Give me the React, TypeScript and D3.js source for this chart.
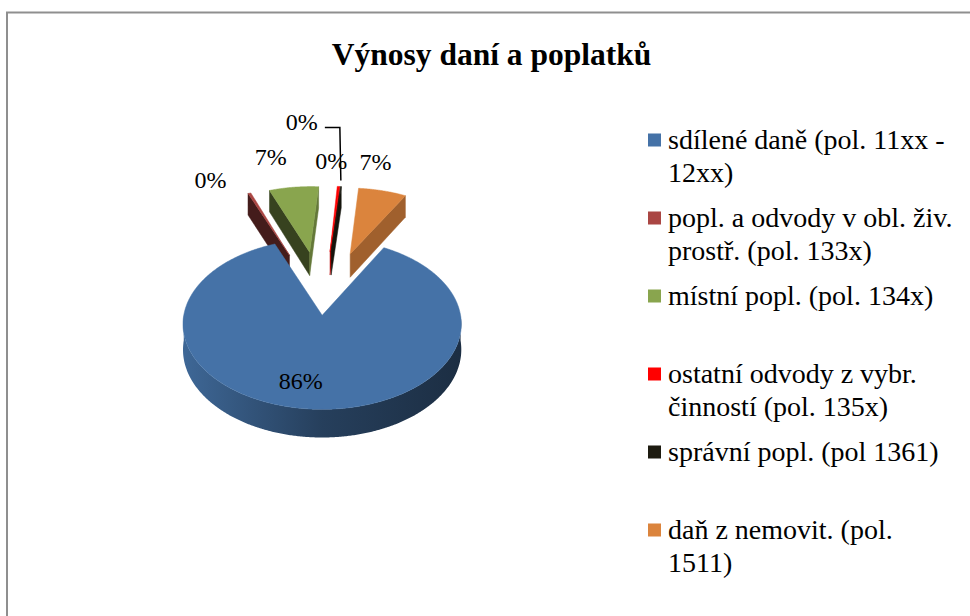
import React from 'react';
import * as d3 from 'd3';

// ---------- data ----------
const title = 'Výnosy daní a poplatků';
const categories = [
  'sdílené daně (pol. 11xx - 12xx)',
  'popl. a odvody v obl. živ. prostř. (pol. 133x)',
  'místní popl. (pol. 134x)',
  'ostatní odvody z vybr. činností (pol. 135x)',
  'správní popl. (pol 1361)',
  'daň z nemovit. (pol. 1511)',
];
const legendLines = [
  ['sdílené daně (pol. 11xx -', '12xx)'],
  ['popl. a odvody v obl. živ.', 'prostř. (pol. 133x)'],
  ['místní popl. (pol. 134x)'],
  ['ostatní odvody z vybr.', 'činností (pol. 135x)'],
  ['správní popl. (pol 1361)'],
  ['daň z nemovit. (pol.', '1511)'],
];
const values = [86.0, 0.4, 6.8, 0.3, 0.1, 6.6];
const colors = ['#4572A7', '#AA4643', '#89A54E', '#FF0000', '#1D1B10', '#DB843D'];

// ---------- style / layout ----------
const W = 970, H = 616;
const FONT = '"Liberation Serif", "DejaVu Serif", "Times New Roman", serif';
const CX = 323, CY = 307, RX = 137, RY = 82.6, PERSP = 0.102, DEPTH = 25;
const START_DEG = 29;
const explode = [0.1, 0.72, 0.72, 0.72, 0.72, 0.72];
const labelRadius = [0.6, 1, 1, 1, 1, 1];
const labelShift: [number, number][] = [[-16, 12], [-39, -13], [-23, -30], [-7, -25], [-39, -65], [-7, -29]];
const leaderIndex = 4;

function proj(u: number, v: number, z = 0): [number, number] {
  const s = 1 / (1 + PERSP * v);
  return [CX + u * RX * s, CY - v * RY * s + z * DEPTH * s];
}
const shade = (c: string, f: number) => {
  const r = d3.rgb(c);
  return d3.rgb(r.r * f, r.g * f, r.b * f).formatHex();
};

const lineGen = d3.line<[number, number]>();

function arcPoints(a0: number, a1: number, ou: number, ov: number, z: number) {
  const n = Math.max(2, Math.ceil(Math.abs(a1 - a0) / (Math.PI / 360)));
  const pts: [number, number][] = [];
  for (let i = 0; i <= n; i++) {
    const a = a0 + ((a1 - a0) * i) / n;
    pts.push(proj(ou + Math.sin(a), ov + Math.cos(a), z));
  }
  return pts;
}

const textStyle = { fontFamily: FONT };

export default function App() {
  const total = d3.sum(values);
  const pct = d3.format('.0%');
  const start = (START_DEG * Math.PI) / 180;
  const arcs = d3.pie<number>().sort(null).startAngle(start).endAngle(start + 2 * Math.PI)(values);

  const slices = arcs.map((a, i) => {
    const mid = (a.startAngle + a.endAngle) / 2;
    const e = explode[i];
    const ou = e * Math.sin(mid), ov = e * Math.cos(mid);
    return { i, a0: a.startAngle, a1: a.endAngle, mid, ou, ov, vy: proj(ou, ov)[1] };
  });
  const order = [...slices].sort((p, q) => p.vy - q.vy);

  const faces: any[] = [];
  const defs: any[] = [];
  order.forEach((s) => {
    const c = colors[s.i];
    const vtx0 = proj(s.ou, s.ov, 0), vtx1 = proj(s.ou, s.ov, 1);
    const radial = (ang: number, normalU: number, normalV: number, key: string) => {
      if (normalV >= 0) return;
      const o0 = proj(s.ou + Math.sin(ang), s.ov + Math.cos(ang), 0);
      const o1 = proj(s.ou + Math.sin(ang), s.ov + Math.cos(ang), 1);
      const fc = shade(c, normalU < 0 ? 0.4 : 0.73);
      faces.push(<path key={key} d={lineGen([vtx0, o0, o1, vtx1])! + 'Z'} fill={fc} stroke={fc} strokeWidth={0.5} />);
    };
    radial(s.a0, -Math.cos(s.a0), Math.sin(s.a0), `rs${s.i}`);
    radial(s.a1, Math.cos(s.a1), -Math.sin(s.a1), `re${s.i}`);
    for (let k = -1; k <= 1; k++) {
      const lo = Math.max(s.a0, Math.PI / 2 + k * 2 * Math.PI);
      const hi = Math.min(s.a1, (3 * Math.PI) / 2 + k * 2 * Math.PI);
      if (hi > lo) {
        const top = arcPoints(lo, hi, s.ou, s.ov, 0);
        const bot = arcPoints(hi, lo, s.ou, s.ov, 1);
        const gid = `g${s.i}_${k + 1}`;
        const xL = proj(s.ou - 1, s.ov)[0], xR = proj(s.ou + 1, s.ov)[0];
        defs.push(
          <linearGradient key={gid} id={gid} gradientUnits="userSpaceOnUse" x1={xL} x2={xR} y1={0} y2={0}>
            <stop offset="0" stopColor={shade(c, 0.9)} />
            <stop offset="0.5" stopColor={shade(c, 0.55)} />
            <stop offset="1" stopColor={shade(c, 0.4)} />
          </linearGradient>
        );
        faces.push(<path key={`c${s.i}_${k}`} d={lineGen([...top, ...bot])! + 'Z'} fill={`url(#${gid})`} />);
      }
    }
    const topPts = [vtx0, ...arcPoints(s.a0, s.a1, s.ou, s.ov, 0)];
    faces.push(<path key={`t${s.i}`} d={lineGen(topPts)! + 'Z'} fill={c} stroke={c} strokeWidth={0.5} strokeLinejoin="round" />);
  });

  const labels = slices.map((s) => {
    const r = labelRadius[s.i];
    const [x, y] = proj(s.ou + r * Math.sin(s.mid), s.ov + r * Math.cos(s.mid));
    return { i: s.i, x: x + labelShift[s.i][0], y: y + labelShift[s.i][1], ax: x, ay: y, text: pct(values[s.i] / total) };
  });
  const ld = labels[leaderIndex];
  const leader = lineGen([
    [ld.ax, ld.ay - 6],
    [ld.ax - 1, ld.y + 6],
    [ld.x + 23, ld.y + 6],
  ]);

  const legX = 648, legY0 = 140, itemStep = 78, lineH = 33, sw = 13;

  return (
    <div style={{ position: 'absolute', left: 0, top: 0 }}>
      <svg width={W} height={H} style={{ display: 'block', fontFamily: FONT }}>
        <rect x={0} y={0} width={W} height={H} fill="#fff" />
        <rect x={7} y={12.5} width={W + 20} height={H + 20} fill="none" stroke="#8f8f8f" strokeWidth={2} />
        <text x={491.5} y={65} textAnchor="middle" fontSize={31.5} fontWeight="bold" fill="#000" style={textStyle}>{title}</text>
        <defs>{defs}</defs>
        <g>{faces}</g>
        {leader && <path d={leader} fill="none" stroke="#000" strokeWidth={1.5} />}
        {labels.map((l) => (
          <text key={l.i} x={l.x} y={l.y + 8} textAnchor="middle" fontSize={24} fill="#000" style={textStyle}>{l.text}</text>
        ))}
        <g>
          {categories.map((cat, i) => {
            const cy = legY0 + i * itemStep;
            return (
              <g key={cat}>
                <rect x={legX} y={cy - sw / 2} width={sw} height={sw} fill={colors[i]} />
                {legendLines[i].map((ln, j) => (
                  <text key={j} x={legX + 20} y={cy + j * lineH + 9} fontSize={28} fill="#000" style={textStyle}>{ln}</text>
                ))}
              </g>
            );
          })}
        </g>
      </svg>
    </div>
  );
}
